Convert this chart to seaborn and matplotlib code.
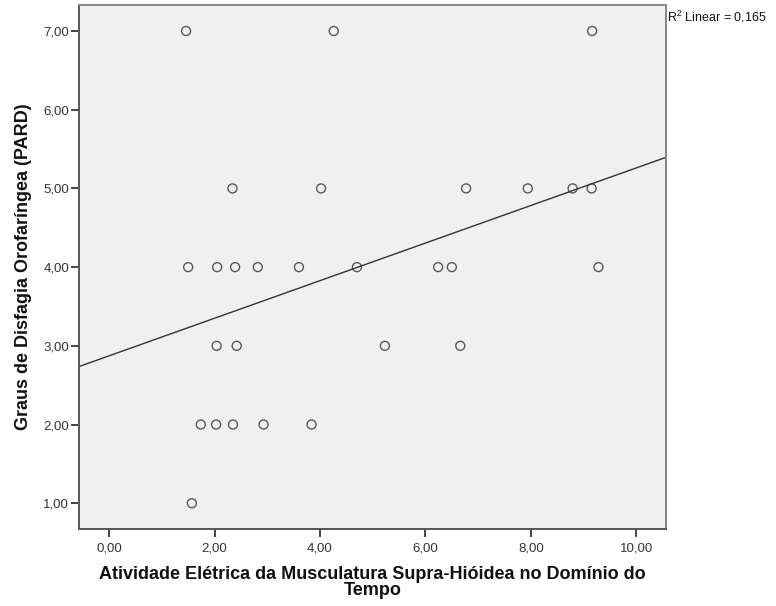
import numpy as np
import pandas as pd
import matplotlib
matplotlib.use("Agg")
import matplotlib.pyplot as plt
import seaborn as sns
from matplotlib.ticker import FuncFormatter

# Data
atividade = [1.46, 4.26, 9.16,
             2.34, 4.02, 6.77, 7.94, 8.79, 9.15,
             1.50, 2.05, 2.39, 2.82, 3.60, 4.70, 6.24, 6.50, 9.28,
             2.04, 2.42, 5.23, 6.66,
             1.74, 2.03, 2.35, 2.93, 3.84,
             1.57]
graus = [7, 7, 7,
         5, 5, 5, 5, 5, 5,
         4, 4, 4, 4, 4, 4, 4, 4, 4,
         3, 3, 3, 3,
         2, 2, 2, 2, 2,
         1]
x_ticks = [0, 2, 4, 6, 8, 10]
y_ticks = [1, 2, 3, 4, 5, 6, 7]
r2_label = "R$^2$ Linear = 0,165"
x_label = "Atividade Elétrica da Musculatura Supra-Hióidea no Domínio do\nTempo"
y_label = "Graus de Disfagia Orofaríngea (PARD)"

df = pd.DataFrame({"x": atividade, "y": graus})

sns.set_style("white")
plt.rcParams["font.family"] = ["Liberation Sans", "DejaVu Sans"]
plt.rcParams["mathtext.fontset"] = "custom"
plt.rcParams["mathtext.rm"] = "Liberation Sans"

fig = plt.figure(figsize=(7.76, 6.06), dpi=100)
ax = fig.add_axes([0.1018, 0.1271, 0.7564, 0.8646])
ax.set_facecolor("#f0f0f0")

# limits first so the fitted line spans the full axes (truncate=False)
ax.set_xlim(-0.57, 10.56)
ax.set_ylim(0.673, 7.33)

sns.regplot(data=df, x="x", y="y", ax=ax, ci=None, truncate=False,
            scatter_kws=dict(s=42, facecolors="none", edgecolors="#333333", linewidths=1.0),
            line_kws=dict(color="#333333", linewidth=1.0))

ax.set_xlim(-0.57, 10.56)
ax.set_ylim(0.673, 7.33)
ax.set_xticks(x_ticks)
ax.set_yticks(y_ticks)
fmt = FuncFormatter(lambda v, p: f"{v:.2f}".replace(".", ","))
ax.xaxis.set_major_formatter(fmt)
ax.yaxis.set_major_formatter(fmt)

for side in ["left", "bottom", "top", "right"]:
    ax.spines[side].set_color("#555555")
    ax.spines[side].set_linewidth(1.4)
    ax.spines[side].set_visible(True)
ax.spines["right"].set_color("#888888")
ax.spines["top"].set_color("#888888")

ax.tick_params(axis="both", which="major", direction="out", length=6, width=1.4,
               color="#444444", labelsize=9.5, labelcolor="#333333",
               bottom=True, left=True, top=False, right=False)
ax.tick_params(axis="x", pad=4)
ax.tick_params(axis="y", pad=1)

ax.set_xlabel(x_label, fontsize=13, fontweight="bold", labelpad=8, linespacing=0.9,
              color="#111111")
ax.set_ylabel(y_label, fontsize=13, fontweight="bold", labelpad=8, color="#111111")

fig.text(667 / 776, 1 - 17 / 606, r2_label, fontsize=9, ha="left", va="center",
         color="#111111")

fig.savefig("out.png", dpi=100, facecolor="white")
